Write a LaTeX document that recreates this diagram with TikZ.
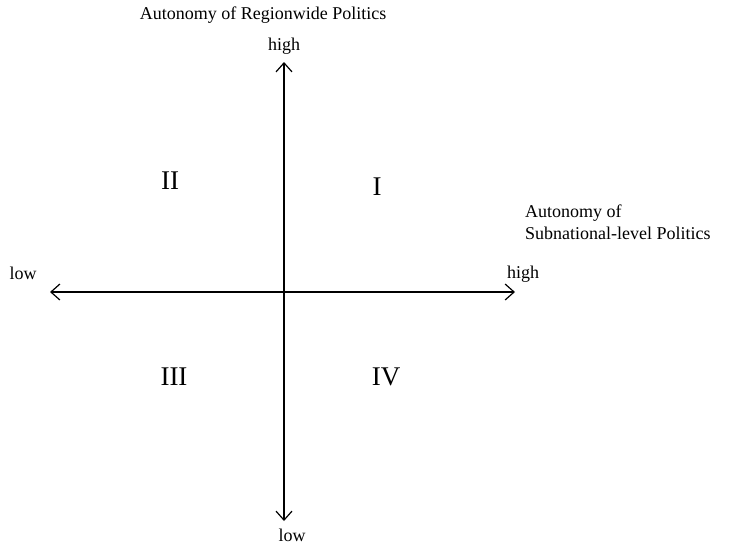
\documentclass[tikz,border=0pt]{standalone}
\usepackage{fontspec}
\setmainfont{Liberation Serif}
\usetikzlibrary{arrows.meta}
\begin{document}
\begin{tikzpicture}[x=1pt,y=-1pt,
  lbl/.style={font=\fontsize{18}{22}\selectfont, inner sep=0pt},
  quad/.style={font=\fontsize{27}{30}\selectfont, inner sep=0pt},
  axis/.style={line width=1.2pt, {Straight Barb[length=9pt,width=16pt,line width=1.2pt]}-{Straight Barb[length=9pt,width=16pt,line width=1.2pt]}}]
\useasboundingbox[fill=white] (0,0) rectangle (746,547);
\coordinate (top) at (284,62);
\coordinate (bot) at (284,521);
\coordinate (lft) at (50,292);
\coordinate (rgt) at (515,292);
\draw[axis] (bot) -- (top);
\draw[axis] (lft) -- (rgt);
\node[lbl] (title) at (263,15) {Autonomy of Regionwide Politics};
\node[lbl] (hightop) at (284,46) {high};
\node[lbl] (lowbot) at (292,535) {low};
\node[lbl] (lowleft) at (23,273) {low};
\node[lbl, anchor=west] (highright) at (507,274) {high};
\node[lbl, align=left, anchor=west] (xtitle) at (525,222) {Autonomy of\\Subnational-level Politics};
\node[quad] (q2) at (170,181) {II};
\node[quad] (q1) at (377,187) {I};
\node[quad] (q3) at (174,377) {III};
\node[quad] (q4) at (386,377) {IV};
\end{tikzpicture}
\end{document}
